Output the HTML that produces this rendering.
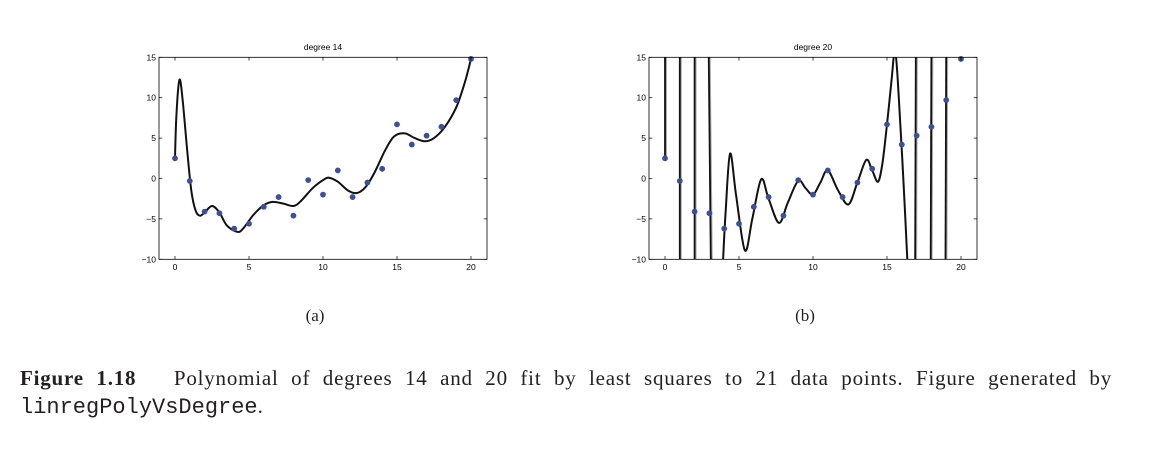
<!DOCTYPE html>
<html><head><meta charset="utf-8"><style>
body{margin:0;background:#fff;width:1152px;height:465px;overflow:hidden;position:relative}
svg{position:absolute;left:0;top:0}
.cap{position:absolute;left:20px;width:1092px;font-family:"Liberation Serif",serif;font-size:21px;letter-spacing:0.8px;color:#231f20;text-align:justify;text-align-last:justify;white-space:nowrap}
.mono{font-family:"Liberation Mono",monospace;font-size:22px;letter-spacing:0}
</style></head><body>
<svg id="s" width="1152" height="465" xmlns="http://www.w3.org/2000/svg" font-family="Liberation Sans, sans-serif"></svg>
<div class="cap" style="top:366px">
<b>Figure 1.18</b>&nbsp;&nbsp; Polynomial of degrees 14 and 20 fit by least squares to 21 data points. Figure generated by</div>
<div class="cap" style="top:394px;text-align-last:left"><span class="mono">linregPolyVsDegree</span>.</div>
<script>
const s=document.getElementById('s');
const ys=[2.5,-0.3,-4.1,-4.3,-6.2,-5.6,-3.5,-2.3,-4.6,-0.2,-2,1,-2.3,-0.5,1.2,6.7,4.2,5.3,6.4,9.7,14.8];
function smooth(P){let d='M'+P[0][0]+','+P[0][1];for(let i=0;i<P.length-1;i++){const p0=P[i-1]||P[i],p1=P[i],p2=P[i+1],p3=P[i+2]||p2;
d+=' C'+(p1[0]+(p2[0]-p0[0])/6).toFixed(1)+','+(p1[1]+(p2[1]-p0[1])/6).toFixed(1)+' '+(p2[0]-(p3[0]-p1[0])/6).toFixed(1)+','+(p2[1]-(p3[1]-p1[1])/6).toFixed(1)+' '+p2[0].toFixed(1)+','+p2[1].toFixed(1);}return d;}
let h='';
function panel(L,x0,title,curves,verts){
 const X=x=>x0+x*14.8, Y=y=>259.3-(y+10)*8.08;
 h+=`<defs><clipPath id="c${x0}"><rect x="${L}" y="57.3" width="328" height="202"/></clipPath></defs>`;
 h+=`<g clip-path="url(#c${x0})">`;
 for(const c of curves){h+=`<path d="${smooth(c.map(p=>[X(p[0]),Y(p[1])]))}" fill="none" stroke="#111" stroke-width="2"/>`;}
 for(const v of verts){h+=`<line x1="${X(v[0])+1.2}" x2="${X(v[1])+1.2}" y1="${Y(v[2])}" y2="${Y(v[3])}" stroke="#aaa" stroke-width="1.5"/><line x1="${X(v[0])}" x2="${X(v[1])}" y1="${Y(v[2])}" y2="${Y(v[3])}" stroke="#111" stroke-width="1.8"/>`;}
 h+='</g>';
 ys.forEach((y,i)=>{h+=`<circle cx="${X(i)}" cy="${Y(y)}" r="2.9" fill="#3a509a"/>`;});
 h+=`<rect x="${L}" y="57.3" width="328" height="202" fill="none" stroke="#000" stroke-width="0.8"/>`;
 for(let i=0;i<=20;i+=5){h+=`<line x1="${X(i)}" x2="${X(i)}" y1="259.3" y2="256" stroke="#000" stroke-width=".7"/><line x1="${X(i)}" x2="${X(i)}" y1="57.3" y2="60.6" stroke="#000" stroke-width=".7"/><text x="${X(i)}" y="270" font-size="8.5" text-anchor="middle">${i}</text>`;}
 for(let y=-10;y<=15;y+=5){h+=`<line x1="${L}" x2="${L+3.3}" y1="${Y(y)}" y2="${Y(y)}" stroke="#000" stroke-width=".7"/><line x1="${L+328}" x2="${L+324.7}" y1="${Y(y)}" y2="${Y(y)}" stroke="#000" stroke-width=".7"/><text x="${L-3}" y="${Y(y)+3}" font-size="8.5" text-anchor="end">${y<0?'\u2212'+(-y):y}</text>`;}
 h+=`<text x="${L+164}" y="50" font-size="8.5" text-anchor="middle">${title}</text>`;
}
panel(159,175,'degree 14',[[[0,2.5],[0.1,8],[0.3,12.2],[0.5,10],[0.8,4],[1.1,-1.5],[1.4,-4],[1.7,-4.6],[2,-4.2],[2.5,-3.4],[3,-4.2],[3.5,-5.8],[4.2,-6.6],[4.6,-6.2],[5.3,-4.5],[6,-3.3],[6.6,-2.9],[7.3,-3.1],[8,-3.4],[8.5,-2.8],[9.3,-1.2],[10,-0.2],[10.4,0.1],[11,-0.4],[11.7,-1.5],[12.3,-1.8],[12.9,-1],[13.5,0.8],[14.2,3.5],[14.8,5.2],[15.5,5.6],[16.2,5.0],[16.9,4.6],[17.5,5.0],[18.2,6.3],[19,8.8],[19.6,12],[20,14.8]]],[]);
panel(649,665,'degree 20',[[[3.9,-11],[4.1,-4],[4.4,3.1],[4.8,-2],[5.4,-8.9],[5.9,-5],[6.5,-0.1],[7,-2.5],[7.7,-5.5],[8.3,-3],[9,-0.3],[9.5,-1.2],[10,-2],[10.5,-0.5],[11,1],[11.7,-1.5],[12.4,-3.2],[13,-0.5],[13.6,2.3],[14,1],[14.4,-0.4],[14.7,2],[15,6.7],[15.3,12],[15.55,15.8],[15.8,10],[16.1,0],[16.4,-11]]],
 [[0,0,2.5,16],[1,1,-11,16],[2,2,-11,16],[2.95,3.1,16,-11],[16.9,16.95,-11,16],[17.95,18,-11,16],[18.95,19,-11,16]]);
h+=`<text x="315" y="321" font-size="17" text-anchor="middle" font-family="Liberation Serif, serif" fill="#231f20">(a)</text><text x="805" y="321" font-size="17" text-anchor="middle" font-family="Liberation Serif, serif" fill="#231f20">(b)</text>`;
s.innerHTML=h;
</script>
</body></html>
